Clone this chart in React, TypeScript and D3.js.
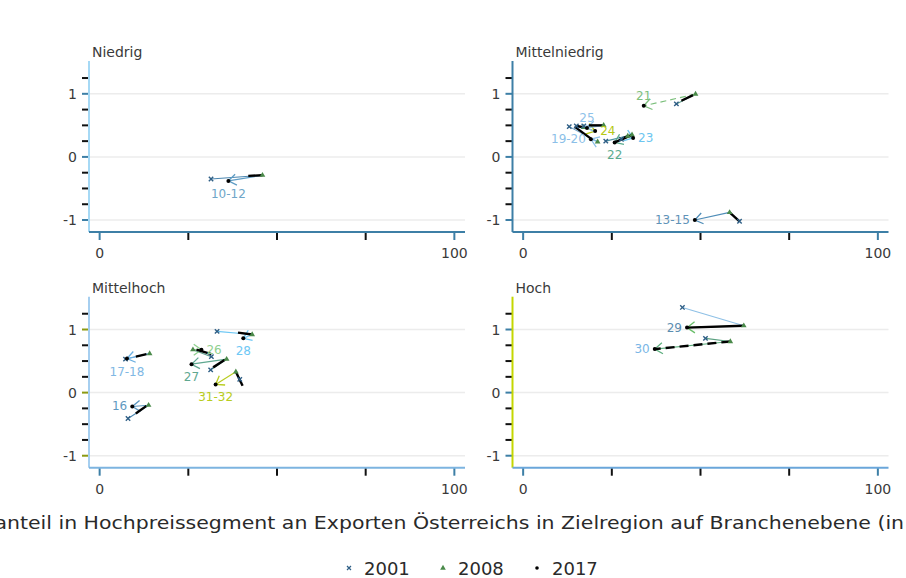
import React, { useEffect, useRef } from 'react';
import * as d3 from 'd3';

// panels (income groups of the target region)
const panelNames = ['Niedrig', 'Mittelniedrig', 'Mittelhoch', 'Hoch'];

// industries (NACE groups) and the panel they sit in
const industries = ['10-12', '13-15', '19-20', '21', '22', '23', '24', '25', '16', '17-18', '26', '27', '28', '31-32', '29', '30'];
const panelOf = [0, 1, 1, 1, 1, 1, 1, 1, 2, 2, 2, 2, 2, 2, 3, 3];

// share in high price segment (x) and quality index (y)
const x2001 = [31.4, 61.0, 13.0, 43.2, 23.3, 27.7, 15.0, 17.1, 8.0, 7.3, 31.5, 31.3, 33.1, 39.5, 44.9, 51.4];
const y2001 = [-0.35, -1.02, 0.48, 0.84, 0.25, 0.28, 0.49, 0.49, -0.41, 0.53, 0.57, 0.36, 0.97, 0.21, 1.35, 0.86];
const x2008 = [45.9, 58.2, 21.0, 48.6, 30.7, 29.5, 17.0, 22.7, 13.8, 14.1, 26.3, 35.8, 43.0, 38.4, 62.2, 58.4];
const y2008 = [-0.29, -0.88, 0.24, 0.995, 0.35, 0.33, 0.47, 0.50, -0.20, 0.62, 0.68, 0.53, 0.92, 0.33, 1.06, 0.81];
const x2017 = [36.3, 48.4, 19.1, 34.0, 25.8, 31.0, 20.3, 18.0, 9.2, 7.7, 28.7, 25.9, 40.5, 32.7, 46.2, 37.1];
const y2017 = [-0.38, -1.0, 0.28, 0.81, 0.23, 0.30, 0.41, 0.46, -0.22, 0.54, 0.68, 0.45, 0.86, 0.13, 1.03, 0.69];

// black trend segments
const blackX1 = [41.9, 58.2, 14.5, 44.6, 25.8, 28.0, 15.0, 18.5, 10.2, 10.2, 27.3, 32.0, 39.0, 38.4, 62.2, 58.4];
const blackY1 = [-0.30, -0.88, 0.48, 0.89, 0.23, 0.29, 0.49, 0.50, -0.33, 0.57, 0.68, 0.40, 0.95, 0.33, 1.06, 0.81];
const blackX2 = [45.9, 61.0, 19.1, 47.9, 30.7, 29.5, 17.0, 22.7, 13.2, 13.2, 31.5, 35.3, 43.0, 40.3, 46.2, 37.1];
const blackY2 = [-0.29, -1.02, 0.29, 0.98, 0.35, 0.33, 0.47, 0.50, -0.21, 0.61, 0.61, 0.52, 0.92, 0.11, 1.03, 0.69];
const blackDashed = ['30'];
const arrowDashed = ['21'];

const arrowColors = ['#5e9cc4', '#4f8db8', '#8cc0ea', '#7dc07d', '#5aab8e', '#6cc5f0', '#b5c816', '#8ec2ea', '#5a96c0', '#6aaee0', '#8fd08f', '#5fa890', '#6ec8f5', '#b8cc20', '#6bbf6b', '#60b080'];
const lineColors = ['#4a86b0', '#4f8db8', '#6aa0c8', '#5a9a8a', '#4a90a0', '#6cc5f0', '#8aa830', '#8ec2ea', '#4a86b0', '#6aaee0', '#5a9a8a', '#5fa890', '#6ec8f5', '#4a7a9a', '#8ec0e6', '#5aa080'];
const labelColors = ['#6fa6c8', '#5f93b8', '#8cbfe8', '#7dc07d', '#5aab8e', '#6cc5f0', '#b5c816', '#8ec2ea', '#5f98bf', '#80b8e4', '#8fd08f', '#5fa890', '#6ec8f5', '#b8cc20', '#5b8db0', '#79b6e6'];
const labelSide = ['below', 'left', 'left', 'above', 'below', 'right', 'right', 'above', 'left', 'below', 'right', 'below', 'below', 'below', 'left', 'left'];

const yTicks = [-1, -0.75, -0.5, -0.25, 0, 0.25, 0.5, 0.75, 1, 1.25];
const xTicks = [0, 25, 50, 75, 100];
const xLabels = [0, 100];

const legendYears = ['2001', '2008', '2017'];
const xTitle = 'Marktanteil in Hochpreissegment an Exporten Österreichs in Zielregion auf Branchenebene (in %)';

const yAxisColors = ['#a6d9f5', '#3d7fa6', '#a6cff0', '#c4d600'];
const xAxisColors = ['#3d7fa6', '#3d7fa6', '#7db4e0', '#6aa6da'];
const yMajorColors = ['#3d7fa6', '#3d7fa6', '#8b9a12', '#3d7fa6'];

const W = 906;
const H = 578;
const FONT = '"DejaVu Sans", sans-serif';

export default function App() {
  const ref = useRef<SVGSVGElement>(null);

  useEffect(() => {
    const svg = d3.select(ref.current);
    svg.selectAll('*').remove();

    const pw = 376;
    const ph = 171;
    const lefts = [89, 512.5, 89, 512.5];
    const tops = [61, 61, 296.7, 296.7];

    panelNames.forEach((name, p) => {
      const L = lefts[p];
      const T = tops[p];
      const x = d3.scaleLinear().domain([-3, 103]).range([L, L + pw]);
      const y = d3.scaleLinear().domain([-1.19, 1.52]).range([T + ph, T]);
      const g = svg.append('g');

      // grid
      g.selectAll('line.grid')
        .data([-1, 0, 1])
        .enter()
        .append('line')
        .attr('x1', L)
        .attr('x2', L + pw)
        .attr('y1', d => y(d))
        .attr('y2', d => y(d))
        .attr('stroke', '#ececec')
        .attr('stroke-width', 1.5);

      // y ticks
      g.selectAll('line.yt')
        .data(yTicks)
        .enter()
        .append('line')
        .attr('x1', L - 7)
        .attr('x2', L)
        .attr('y1', d => y(d))
        .attr('y2', d => y(d))
        .attr('stroke', d => (Number.isInteger(d) ? yMajorColors[p] : '#111'))
        .attr('stroke-width', 2);

      g.selectAll('text.yl')
        .data([-1, 0, 1])
        .enter()
        .append('text')
        .attr('x', L - 12)
        .attr('y', d => y(d) + 5)
        .attr('text-anchor', 'end')
        .attr('font-size', 14)
        .attr('fill', '#3a3a3a')
        .text(d => String(d));

      // x ticks
      g.selectAll('line.xt')
        .data(xTicks)
        .enter()
        .append('line')
        .attr('x1', d => x(d))
        .attr('x2', d => x(d))
        .attr('y1', T + ph)
        .attr('y2', T + ph + 8)
        .attr('stroke', d => (d === 0 || d === 100 ? '#3d7fa6' : '#111'))
        .attr('stroke-width', 2);

      g.selectAll('text.xl')
        .data(xLabels)
        .enter()
        .append('text')
        .attr('x', d => x(d))
        .attr('y', T + ph + 26)
        .attr('text-anchor', 'middle')
        .attr('font-size', 14)
        .attr('fill', '#3a3a3a')
        .text(d => String(d));

      // axis lines
      g.append('line')
        .attr('x1', L).attr('x2', L)
        .attr('y1', T).attr('y2', T + ph)
        .attr('stroke', yAxisColors[p]).attr('stroke-width', 2);
      g.append('line')
        .attr('x1', L).attr('x2', L + pw)
        .attr('y1', T + ph).attr('y2', T + ph)
        .attr('stroke', xAxisColors[p]).attr('stroke-width', 2);

      g.append('text')
        .attr('x', L + 3)
        .attr('y', T - 4)
        .attr('font-size', 14)
        .attr('fill', '#3a3a3a')
        .text(name);

      const idx = industries.map((_, i) => i).filter(i => panelOf[i] === p);

      // 2001 -> 2008
      idx.forEach(i => {
        g.append('line')
          .attr('x1', x(x2001[i])).attr('y1', y(y2001[i]))
          .attr('x2', x(x2008[i])).attr('y2', y(y2008[i]))
          .attr('stroke', lineColors[i]).attr('stroke-width', 1.1);
      });

      // 2008 -> 2017 arrows
      idx.forEach(i => {
        const sx = x(x2008[i]);
        const sy = y(y2008[i]);
        const ex = x(x2017[i]);
        const ey = y(y2017[i]);
        const dash = arrowDashed.includes(industries[i]) ? '6,4' : null;
        g.append('line')
          .attr('x1', sx).attr('y1', sy).attr('x2', ex).attr('y2', ey)
          .attr('stroke', arrowColors[i]).attr('stroke-width', 1.2)
          .attr('stroke-dasharray', dash);
        const a = Math.atan2(sy - ey, sx - ex);
        const len = 9.5;
        const spread = 0.62;
        const head = d3.path();
        head.moveTo(ex + len * Math.cos(a + spread), ey + len * Math.sin(a + spread));
        head.lineTo(ex, ey);
        head.lineTo(ex + len * Math.cos(a - spread), ey + len * Math.sin(a - spread));
        g.append('path')
          .attr('d', head.toString())
          .attr('fill', 'none')
          .attr('stroke', arrowColors[i])
          .attr('stroke-width', 1.3);
      });

      // black segments
      idx.forEach(i => {
        g.append('line')
          .attr('x1', x(blackX1[i])).attr('y1', y(blackY1[i]))
          .attr('x2', x(blackX2[i])).attr('y2', y(blackY2[i]))
          .attr('stroke', '#000').attr('stroke-width', 2.4)
          .attr('stroke-dasharray', blackDashed.includes(industries[i]) ? '9,5' : null);
      });

      // markers
      idx.forEach(i => {
        const cx = x(x2001[i]);
        const cy = y(y2001[i]);
        g.append('path')
          .attr('d', `M${cx - 2.2},${cy - 2.2}L${cx + 2.2},${cy + 2.2}M${cx - 2.2},${cy + 2.2}L${cx + 2.2},${cy - 2.2}`)
          .attr('stroke', '#2f5f86').attr('stroke-width', 1.4);
        g.append('path')
          .attr('d', d3.symbol(d3.symbolTriangle, 14)())
          .attr('transform', `translate(${x(x2008[i])},${y(y2008[i])})`)
          .attr('fill', '#4a8a4a');
        g.append('circle')
          .attr('cx', x(x2017[i])).attr('cy', y(y2017[i]))
          .attr('r', 2).attr('fill', '#000');
      });

      // labels
      idx.forEach(i => {
        const cx = x(x2017[i]);
        const cy = y(y2017[i]);
        const side = labelSide[i];
        let lx = cx;
        let ly = cy + 4;
        let anchor = 'middle';
        if (side === 'left') { lx = cx - 5; anchor = 'end'; }
        if (side === 'right') { lx = cx + 5; anchor = 'start'; }
        if (side === 'below') { ly = cy + 17; }
        if (side === 'above') { ly = cy - 6; }
        g.append('text')
          .attr('x', lx).attr('y', ly)
          .attr('text-anchor', anchor)
          .attr('font-size', 12)
          .attr('fill', labelColors[i])
          .text(industries[i]);
      });
    });

    // x title (wider than the frame, clipped at both sides as in the source)
    svg.append('text')
      .attr('x', -64)
      .attr('y', 529)
      .attr('font-size', 18)
      .attr('fill', '#2a2a2a')
      .attr('textLength', 1002)
      .attr('lengthAdjust', 'spacingAndGlyphs')
      .text(xTitle);

    // legend
    const lg = svg.append('g');
    legendYears.forEach((yr, i) => {
      const mx = 349 + i * 94;
      const my = 568;
      if (i === 0) {
        lg.append('path')
          .attr('d', `M${mx - 2},${my - 2}L${mx + 2},${my + 2}M${mx - 2},${my + 2}L${mx + 2},${my - 2}`)
          .attr('stroke', '#2f5f86').attr('stroke-width', 1.2);
      } else if (i === 1) {
        lg.append('path')
          .attr('d', d3.symbol(d3.symbolTriangle, 14)())
          .attr('transform', `translate(${mx},${my})`)
          .attr('fill', '#4a8a4a');
      } else {
        lg.append('circle').attr('cx', mx).attr('cy', my).attr('r', 1.8).attr('fill', '#000');
      }
      lg.append('text')
        .attr('x', mx + 15)
        .attr('y', 575)
        .attr('font-size', 18)
        .attr('fill', '#2a2a2a')
        .text(yr);
    });
  }, []);

  return (
    <svg
      ref={ref}
      width={W}
      height={H}
      style={{ position: 'absolute', left: 0, top: 0, fontFamily: FONT, background: '#fff' }}
    />
  );
}
